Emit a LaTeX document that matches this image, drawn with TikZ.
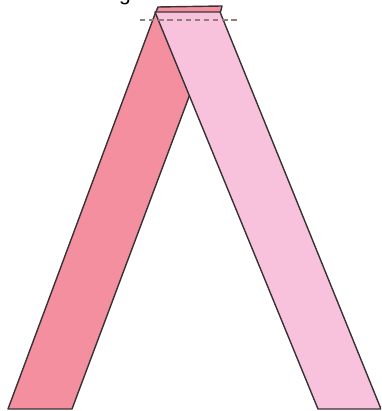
\documentclass[tikz,border=0pt]{standalone}
\usepackage{fontspec}
\setmainfont{Liberation Sans}
\usepackage{tikz}
\usetikzlibrary{calc}

\definecolor{legdark}{RGB}{243,143,158}
\definecolor{leglight}{RGB}{248,194,220}
\definecolor{edgegray}{RGB}{55,50,52}
\definecolor{markgray}{RGB}{140,128,120}

\begin{document}
\begin{tikzpicture}[x=0.2mm, y=-0.2mm,
  leg/.style={draw=edgegray, line width=0.8pt, line join=round},
  foldline/.style={draw=markgray, line width=1.1pt, dash pattern=on 3pt off 2.2pt}]
  \useasboundingbox (0,0) rectangle (381,411);
  \clip (0,0) rectangle (381,411);
  \node[anchor=base, font=\large, inner sep=0pt] (cut) at (125,1) {g};
  % back leg, folded over at the top
  \coordinate (dbl) at (8,409);
  \coordinate (dbr) at (72,409);
  \coordinate (dtr) at (220,14);
  \coordinate (dtf) at (222,6);
  \coordinate (dtb) at (158,7);
  \coordinate (dtl) at (155,14);
  \fill[legdark] (dbl) -- (dbr) -- (dtr) -- (dtf) -- (dtb) -- (dtl) -- cycle;
  \draw[leg] (dtl) -- (dbl) -- (dbr) -- (dtr) -- (dtf) -- (dtb) -- (dtl);
  % front leg
  \coordinate (ltl) at (155,12);
  \coordinate (lbl) at (318,409);
  \coordinate (lbr) at (381,409);
  \coordinate (ltr) at (220,12);
  \filldraw[leg, fill=leglight] (ltl) -- (lbl) -- (lbr) -- (ltr) -- cycle;
  % fold line
  \coordinate (ma) at (140,20);
  \coordinate (mb) at (237,20);
  \draw[foldline] (ma) -- (mb);
\end{tikzpicture}
\end{document}
